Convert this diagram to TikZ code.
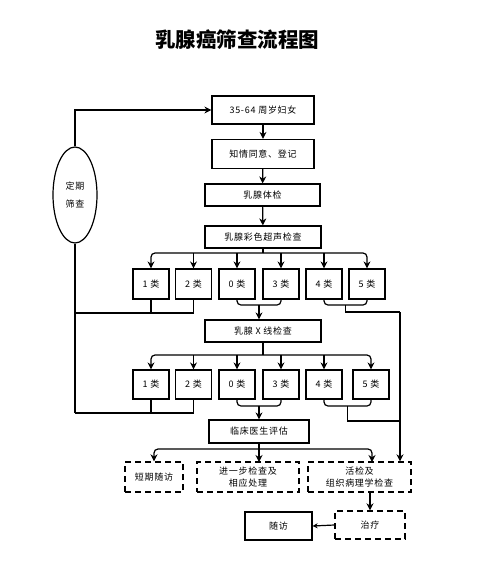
\documentclass[tikz,border=0pt]{standalone}
\usepackage{fontspec}
\setmainfont{Noto Sans CJK SC}[LetterSpace=8]
\newfontfamily\titlefont{Noto Sans CJK SC}
\usetikzlibrary{arrows.meta,shapes.geometric,calc}
\begin{document}
\begin{tikzpicture}[x=1pt,y=-1pt,
  font=\fontsize{9}{11.5}\selectfont,
  box/.style={draw,line width=1.2pt,minimum width=#1,inner sep=1pt,align=center},
  dbox/.style={draw,line width=1.4pt,dash pattern=on 6pt off 4pt,minimum width=#1,inner sep=1pt,align=center},
  ln/.style={line width=1.2pt},
  arr/.style={line width=1.2pt,-{Stealth[length=7pt,width=7pt]}},
  rc/.style={rounded corners=4pt}]
\useasboundingbox (0,0) rectangle (477,563);
\node[font=\titlefont\bfseries\fontsize{20.5}{24}\selectfont] (title) at (237,40) {乳腺癌筛查流程图};
% main column
\node[box=102pt,minimum height=28pt] (n1) at (263,110) {35-64 周岁妇女};
\node[box=102pt,minimum height=29pt] (n2) at (263,154) {知情同意、登记};
\node[box=115pt,minimum height=22pt] (n3) at (262.5,195) {乳腺体检};
\node[box=116pt,minimum height=22pt] (n4) at (263,237) {乳腺彩色超声检查};
\foreach \nm/\x/\t in {a1/151/1 类,a2/193.5/2 类,a0/237/0 类,a3/281/3 类,a4/324/4 类,a5/367/5 类}
  \node[box=36pt,minimum height=30pt] (\nm) at (\x,284) {\t};
\node[box=116pt,minimum height=22pt] (n5) at (263,331) {乳腺 X 线检查};
\foreach \nm/\x/\t in {b1/151/1 类,b2/193.5/2 类,b0/237/0 类,b3/281/3 类,b4/324/4 类,b5/371/5 类}
  \node[box=36pt,minimum height=29pt] (\nm) at (\x,384.5) {\t};
\node[box=100pt,minimum height=23pt] (n6) at (259,431.5) {临床医生评估};
\node[dbox=58pt,minimum height=30pt] (d1) at (154,477) {短期随访};
\node[dbox=102pt,minimum height=30pt] (d2) at (248,477) {进一步检查及\\相应处理};
\node[dbox=103pt,minimum height=30pt] (d3) at (359.5,477) {活检及\\组织病理学检查};
\node[dbox=70pt,minimum height=28pt] (d4) at (370,525) {治疗};
\node[box=67pt,minimum height=28pt] (f1) at (278.5,526) {随访};
\node[draw,ellipse,line width=1.2pt,minimum width=44pt,minimum height=96pt,inner sep=0pt,align=center] (el) at (75,195) {定期\\[7pt]筛查};
% helper coordinates
\coordinate (s1) at (263,253);
\coordinate (s2) at (263,355);
\coordinate (s3) at (259,449);
\coordinate (m03) at (259,305);
\coordinate (m45) at (345.5,305);
\coordinate (k03) at (259,406);
\coordinate (k45) at (347.5,406);
\coordinate (rt) at (400,312);
\coordinate (rb) at (400,421);
\coordinate (l1) at (75,313);
\coordinate (l2) at (75,413);
\coordinate (t3) at (372,462);
\coordinate (t2) at (259,462);
% column arrows
\draw[arr] (n1) -- (n2);
\draw[arr] (n2) -- (n3);
\draw[arr] (n3) -- (n4);
% branch 1
\draw[ln] (n4.south) -- (s1);
\draw[arr,rc] (s1) -| (a1.north);
\draw[arr,rc] (s1) -| (a5.north);
\foreach \nm in {a2,a0,a3,a4} \draw[arr] (s1 -| \nm.north) -- (\nm.north);
% merges row 1
\draw[ln,rc] (a0.south) |- (m03) -| (a3.south);
\draw[arr] (m03) -- (m03 |- n5.north);
\draw[ln,rc] (a4.south) |- (m45) -| (a5.south);
\draw[ln] (m45) |- (rt);
\draw[ln] (a1.south) -- (a1.south |- l1);
\draw[ln] (a2.south) |- (l1);
% branch 2
\draw[ln] (n5.south) -- (s2);
\draw[arr,rc] (s2) -| (b1.north);
\draw[arr,rc] (s2) -| (b5.north);
\foreach \nm in {b2,b0,b3,b4} \draw[arr] (s2 -| \nm.north) -- (\nm.north);
\draw[ln,rc] (b0.south) |- (k03) -| (b3.south);
\draw[arr] (k03) -- (k03 |- n6.north);
\draw[ln,rc] (b4.south) |- (k45) -| (b5.south);
\draw[ln] (k45) |- (rb);
\draw[ln] (b1.south) -- (b1.south |- l2);
\draw[ln] (b2.south) |- (l2);
% right line
\draw[arr] (rt) -- (rt |- d3.north);
% left loop
\draw[ln] (l2) -- (el.south);
\draw[arr] (el.north) |- (n1.west);
% branch 3
\draw[ln] (n6.south) -- (s3);
\draw[arr,rc] (s3) -| (d1.north);
\draw[arr,rc] (s3) -| (t3);
\draw[arr] (s3) -- (t2);
% bottom
\draw[arr] (d3.south -| d4.north) -- (d4.north);
\draw[arr,line width=1.2pt,-{Stealth[length=5pt,width=5pt]}] (d4.west) -- (f1.east);
\end{tikzpicture}
\end{document}
